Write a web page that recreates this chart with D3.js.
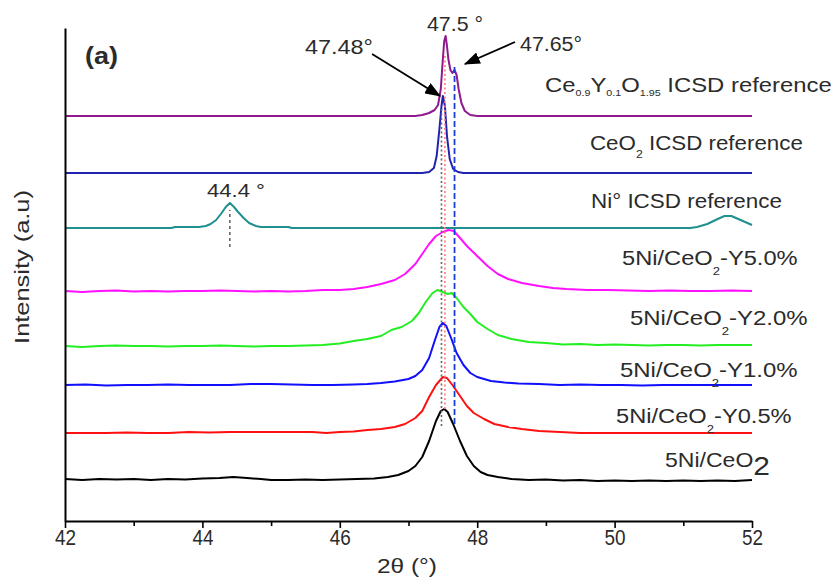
<!DOCTYPE html>
<html>
<head>
<meta charset="utf-8">
<script src="https://cdn.jsdelivr.net/npm/d3@7"></script>
<style>
  body { margin: 0; background: #fff; }
  text { font-family: "Liberation Sans", Arial, sans-serif; fill: #2b2b2b; }
</style>
</head>
<body>
<div class="root"></div>
<script>
// [2theta, intensity a.u. (stacked offset included)]
var sample5Ni = [[42.0,42],[42.25,41],[42.5,42],[42.75,41.5],[43.0,42],[43.25,41],[43.5,42],[43.75,41.5],[44.0,42.5],[44.25,43],
  [44.45,44],[44.65,43],[44.85,42],[45.0,41],[45.25,41],[45.5,41.5],[45.75,41],[46.0,41.5],[46.25,42],[46.5,42.5],[46.7,44],
  [46.85,46],[47.0,50],[47.1,55],[47.2,64],[47.3,80],[47.4,100],[47.47,110],[47.52,112],[47.57,109],[47.65,97],[47.75,80],
  [47.85,65],[47.95,55],[48.05,49],[48.15,46],[48.3,44],[48.5,42],[48.75,41],[49.0,41.5],[49.25,40.5],[49.5,41],[49.75,40],
  [50.0,40.5],[50.25,40],[50.5,40.5],[50.75,40],[51.0,40.5],[51.25,40],[51.5,40.5],[51.75,40],[52.0,41]];
var sampleY05 = [[42.0,88],[42.3,88],[42.6,88],[42.9,88.5],[43.2,88],[43.5,88],[43.8,89],[44.1,88.5],[44.4,89],[44.7,89],
  [45.0,89],[45.3,89],[45.6,89],[45.8,88],[46.0,89],[46.2,89.5],[46.4,91],[46.6,92],[46.8,94],[46.95,97],[47.1,103],
  [47.2,110],[47.3,124],[47.4,136],[47.5,144],[47.56,143],[47.65,135],[47.75,125],[47.85,115],[47.95,108],[48.1,102],
  [48.25,97],[48.45,94],[48.65,92],[48.9,90],[49.2,89],[49.5,88],[49.8,88],[50.1,88],[50.4,88],[50.7,88],[51.0,88],
  [51.3,88],[51.6,88],[52.0,88]];
var sampleY10 = [[42.0,136],[42.3,136.5],[42.6,135.5],[42.9,136],[43.2,136],[43.5,136.5],[43.8,136],[44.1,136],[44.4,136],
  [44.7,137],[45.0,137],[45.3,136.5],[45.6,136],[45.9,136],[46.2,136.5],[46.4,137],[46.6,138],[46.8,139.5],[47.0,142],
  [47.1,145],[47.2,151],[47.3,163],[47.38,180],[47.45,194],[47.5,198],[47.55,195],[47.62,183],[47.7,168],[47.8,156],
  [47.9,148],[48.0,144],[48.2,140],[48.4,138.5],[48.6,137.5],[48.9,137],[49.2,136],[49.5,136.5],[49.8,136],[50.1,136],
  [50.4,135.5],[50.7,136],[51.0,136],[51.3,136],[51.6,136],[52.0,136]];
var sampleY20 = [[42.0,175],[42.25,174],[42.5,175],[42.75,175.5],[43.0,175],[43.25,175],[43.5,174.5],[43.75,175],[44.0,175],
  [44.25,175.5],[44.5,175],[44.75,174.5],[45.0,175],[45.25,175],[45.5,175.5],[45.75,176],[46.0,177.5],[46.2,180],[46.4,182],
  [46.6,185],[46.75,191],[46.9,194],[47.05,200],[47.15,208],[47.25,219],[47.35,228],[47.42,231],[47.5,229],[47.57,227],
  [47.63,228],[47.7,223],[47.8,214],[47.9,207],[48.0,199],[48.15,192],[48.3,186],[48.5,182],[48.75,179],[49.0,178],
  [49.25,176.5],[49.5,177],[49.75,176],[50.0,176.5],[50.25,176],[50.5,175.5],[50.75,176],[51.0,176],[51.25,175.5],
  [51.5,176],[51.75,176],[52.0,176]];
var sampleY50 = [[42.0,230],[42.25,229],[42.5,230],[42.75,230.5],[43.0,229.5],[43.25,230],[43.5,229.5],[43.75,230],[44.0,230],
  [44.25,230.5],[44.5,230],[44.75,229.5],[45.0,230],[45.25,229.5],[45.5,230],[45.75,231],[46.0,231],[46.2,232],[46.4,234],
  [46.6,237],[46.8,241],[46.95,247],[47.1,257],[47.2,267],[47.3,277],[47.4,285],[47.5,289],[47.58,291],[47.66,290],
  [47.75,283],[47.85,275],[48.0,265],[48.15,255],[48.3,247],[48.45,242],[48.65,238],[48.9,235],[49.1,233],[49.3,232],
  [49.6,231],[49.9,231],[50.2,230.5],[50.5,230],[50.8,230.5],[51.1,230],[51.4,230],[51.7,230.5],[52.0,230]];
var refNi = [[42.0,293],[43.55,293],[43.6,294],[43.95,294],[44.05,295],[44.12,297],[44.2,301],[44.28,308],[44.34,314],
  [44.4,318],[44.46,314],[44.52,309],[44.6,303],[44.68,298],[44.78,295],[44.85,294],[45.25,294],[45.3,293],[51.1,293],
  [51.2,294],[51.35,297],[51.5,302],[51.6,305],[51.7,305],[51.8,302],[51.9,299],[52.0,296]];
var refCeO2 = [[42.0,348],[47.2,348],[47.3,349],[47.37,353],[47.41,365],[47.45,392],[47.48,415],[47.5,425],[47.53,415],
  [47.56,385],[47.6,362],[47.65,352],[47.72,349],[47.8,348],[52.0,348]];
var refCeY = [[42.0,405],[47.1,405],[47.2,406],[47.3,408],[47.38,411],[47.43,416],[47.47,432],[47.5,462],[47.52,480],
  [47.54,485],[47.56,475],[47.58,462],[47.61,451],[47.64,448],[47.67,451],[47.7,446],[47.73,432],[47.77,418],[47.82,410],
  [47.9,406],[48.0,405],[52.0,405]];

var seriesData = [sample5Ni, sampleY05, sampleY10, sampleY20, sampleY50, refNi, refCeO2, refCeY];
var seriesColors = ['#000000', '#ff1010', '#1010ff', '#22ee22', '#ff11ff', '#1f8f8f', '#2222b0', '#8e1a8e'];

// marked peak positions and the intensity span of each guide line
var peakPos = [47.48, 47.53, 47.67, 44.4];
var peakSpan = [[95, 412], [112, 467], [97, 454], [274, 311]];
var xTicks = [42, 43, 44, 45, 46, 47, 48, 49, 50, 51, 52];

var w = 834, h = 579;
var x = d3.scaleLinear().domain([42, 52]).range([65, 752]);
var y = d3.scaleLinear().domain([0, 493]).range([521, 28]);

var svg = d3.select('.root').append('svg').attr('width', w).attr('height', h);

var line = d3.line()
  .x(function(d) { return x(d[0]); })
  .y(function(d) { return y(d[1]); });

svg.append('g').selectAll('path')
  .data(seriesData)
  .enter().append('path')
    .attr('fill', 'none')
    .attr('stroke', function(d, i) { return seriesColors[i]; })
    .attr('stroke-width', 2)
    .attr('stroke-linejoin', 'round')
    .attr('d', line);

// guide lines at peak positions
var guideStyle = [['#666', '2,2.5', 1.6], ['#ff7a7a', '2,2.5', 1.6], ['#1a3fd8', '6,3', 1.8], ['#333', '3,3', 1.2]];
svg.append('g').selectAll('line')
  .data(peakPos)
  .enter().append('line')
    .attr('x1', function(d) { return x(d); })
    .attr('x2', function(d) { return x(d); })
    .attr('y1', function(d, i) { return y(peakSpan[i][0]); })
    .attr('y2', function(d, i) { return y(peakSpan[i][1]); })
    .attr('stroke', function(d, i) { return guideStyle[i][0]; })
    .attr('stroke-dasharray', function(d, i) { return guideStyle[i][1]; })
    .attr('stroke-width', function(d, i) { return guideStyle[i][2]; });

// axes
var xAxis = d3.axisBottom(x)
  .tickValues(xTicks)
  .tickSize(7)
  .tickSizeOuter(0)
  .tickPadding(1)
  .tickFormat(function(d) { return d % 2 === 0 ? d : ''; });
var gx = svg.append('g').attr('transform', 'translate(0,' + y(0) + ')').call(xAxis);
gx.attr('font-family', null).attr('font-size', null);
gx.select('.domain').attr('stroke', '#000').attr('stroke-width', 2);
gx.selectAll('.tick line').attr('stroke', '#000').attr('stroke-width', 1.6)
  .attr('y2', function(d) { return d % 2 === 0 ? 7 : 5; });
gx.selectAll('.tick text').attr('font-size', 22).attr('fill', '#333')
  .attr('transform', 'scale(0.86,1)');

var yAxis = d3.axisLeft(y).tickValues([]).tickSizeOuter(0);
var gy = svg.append('g').attr('transform', 'translate(' + x(42) + ',0)').call(yAxis);
gy.select('.domain').attr('stroke', '#000').attr('stroke-width', 2);

// arrows
var defs = svg.append('defs');
defs.append('marker')
  .attr('id', 'arr')
  .attr('markerUnits', 'userSpaceOnUse')
  .attr('viewBox', '0 0 16 12')
  .attr('markerWidth', 16).attr('markerHeight', 12)
  .attr('refX', 15).attr('refY', 6)
  .attr('orient', 'auto')
  .append('path').attr('d', 'M0,0 L16,6 L0,12 Z').attr('fill', '#000');

var arrows = [[[46.47, 467], [47.46, 425]], [[48.55, 479], [47.82, 457]]];
svg.append('g').selectAll('line')
  .data(arrows)
  .enter().append('line')
    .attr('x1', function(d) { return x(d[0][0]); })
    .attr('y1', function(d) { return y(d[0][1]); })
    .attr('x2', function(d) { return x(d[1][0]); })
    .attr('y2', function(d) { return y(d[1][1]); })
    .attr('stroke', '#000')
    .attr('stroke-width', 1.8)
    .attr('marker-end', 'url(#arr)');

// text, stretched to the width it has in the figure
function fitText(parts, px, py, width, size, anchor, rot, weight) {
  var g = svg.append('g');
  var t = g.append('text').attr('font-size', size).attr('text-anchor', anchor || 'start');
  if (weight) t.attr('font-weight', weight);
  var cur = 0;
  parts.forEach(function(p) {
    var off = p[2] || 0;
    t.append('tspan')
      .attr('font-size', p[1] || size)
      .attr('dy', off - cur)
      .text(p[0]);
    cur = off;
  });
  var bw = t.node().getBBox().width;
  var sx = width / bw;
  g.attr('transform', 'translate(' + px + ',' + py + ')' + (rot ? ' rotate(' + rot + ')' : '') + ' scale(' + sx + ',1)');
}

var labelParts = [
  [['Ce'], ['0.9', 9, 4], ['Y'], ['0.1', 9, 4], ['O'], ['1.95', 9, 4], [' ICSD reference']],
  [['CeO'], ['2', 11, 8], [' ICSD reference']],
  [['Ni\u00b0 ICSD reference']],
  [['5Ni/CeO'], ['2', 11, 10], ['-Y5.0%']],
  [['5Ni/CeO'], ['2', 11, 10], ['-Y2.0%']],
  [['5Ni/CeO'], ['2', 11, 10], ['-Y1.0%']],
  [['5Ni/CeO'], ['2', 11, 10], ['-Y0.5%']],
  [['5Ni/CeO'], ['2', 26, 8]]
];
var labelBox = [[545, 92, 287], [590, 150, 213], [591, 208, 191], [622, 265, 176],
  [630, 325, 178], [620, 377, 178], [616, 423, 176], [665, 467, 105]];
labelParts.forEach(function(p, i) {
  fitText(p, labelBox[i][0], labelBox[i][1], labelBox[i][2], 20);
});

// peak annotations
fitText([['47.48\u00b0']], 305, 54, 68, 20);
fitText([['47.5 \u00b0']], 427, 31, 56, 20);
fitText([['47.65\u00b0']], 520, 51, 62, 20);
fitText([['44.4 \u00b0']], 207, 197, 58, 19);
fitText([['(a)']], 85, 64, 33, 23, 'start', 0, 'bold');

// axis titles
fitText([['2\u03b8 (\u00b0)']], 407, 573, 60, 21, 'middle');
fitText([['Intensity (a.u)']], 29, 267, 154, 21, 'middle', -90);
</script>
</body>
</html>
